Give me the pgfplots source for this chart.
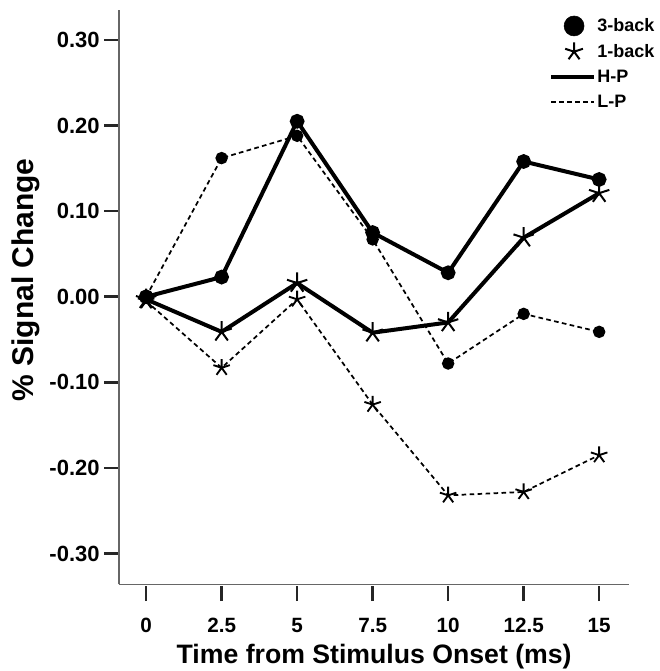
\documentclass[border=0pt]{standalone}
\usepackage{pgfplots}
\pgfplotsset{compat=1.18}
\usepackage{fontspec}
\setmainfont{Liberation Sans}
\pgfplotsset{
  legmark/.style={legend image code/.code={\draw[##1] plot coordinates {(17pt,0pt)};}},
  legline/.style={legend image code/.code={\draw[##1] (0pt,0pt) -- (32pt,0pt);}},
}
\begin{document}
\begin{tikzpicture}
\begin{axis}[
  scale only axis, width=383pt, height=431pt,
  xmin=-0.9, xmax=16.0, ymin=-0.336, ymax=0.335,
  axis lines*=left,
  axis line style={draw=black!60, line width=1.2pt},
  xtick={0,2.5,5,7.5,10,12.5,15},
  xticklabels={0,2.5,5,7.5,10,12.5,15},
  ytick={-0.3,-0.2,-0.1,0,0.1,0.2,0.3},
  yticklabels={-0.30,-0.20,-0.10,0.00,0.10,0.20,0.30},
  tick align=outside,
  major tick length=11pt,
  tick style={black!85, line width=2pt},
  xtick style={yshift=-1.5pt},
  /pgf/number format/assume math mode=true,
  x tick label style={font=\fontsize{15.5}{18}\selectfont\bfseries, yshift=-11pt},
  y tick label style={font=\fontsize{16.5}{18}\selectfont\bfseries},
  xlabel={Time from Stimulus Onset (ms)},
  ylabel={\% Signal Change},
  xlabel style={font=\fontsize{20}{24}\selectfont\bfseries, inner ysep=0pt, yshift=-5pt},
  ylabel style={font=\fontsize{22.5}{26}\selectfont\bfseries, at={(ticklabel cs:0.53)}},
  legend style={draw=none, fill=none, at={(1.06,0.995)}, anchor=north east,
    font=\fontsize{13.5}{15}\selectfont\bfseries, nodes={inner xsep=1pt}, row sep=4pt},
  legend cell align=left,
]
% legend images
\addlegendimage{only marks, mark=*, mark size=7.5pt, black, legmark}
\addlegendentry{3-back}
\addlegendimage{only marks, mark=star, mark size=7pt, line width=1.5pt, black, legmark}
\addlegendentry{1-back}
\addlegendimage{line width=3pt, black, legline}
\addlegendentry{H-P}
\addlegendimage{line width=1.3pt, black, dash pattern=on 3.5pt off 2.5pt, legline}
\addlegendentry{L-P}
% L-P 3-back
\addplot[forget plot, black, line width=1.3pt, dash pattern=on 3.5pt off 2.5pt, mark=*, mark size=4pt, mark options={solid}] coordinates {
(0,0) (2.5,0.162) (5,0.188) (7.5,0.067) (10,-0.078) (12.5,-0.020) (15,-0.041)};
% L-P 1-back
\addplot[forget plot, black, line width=1.3pt, dash pattern=on 3.5pt off 2.5pt, mark=star, mark size=6.5pt, mark options={solid, line width=1.4pt}] coordinates {
(0,-0.005) (2.5,-0.083) (5,-0.003) (7.5,-0.126) (10,-0.232) (12.5,-0.228) (15,-0.185)};
% H-P 3-back
\addplot[forget plot, black, line width=3pt, mark=*, mark size=4pt, mark options={solid}] coordinates {
(0,0) (2.5,0.023) (5,0.205) (7.5,0.075) (10,0.028) (12.5,0.158) (15,0.137)};
% H-P 1-back
\addplot[forget plot, black, line width=3pt, mark=star, mark size=8pt, mark options={solid, line width=1.5pt}] coordinates {
(0,-0.003) (2.5,-0.041) (5,0.016) (7.5,-0.042) (10,-0.030) (12.5,0.069) (15,0.121)};
\end{axis}
\path (current axis.south west) ++(-89.25pt,-65pt) coordinate (bbA);
\path (current axis.north east) ++(21.75pt,7.5pt) coordinate (bbB);
\path (bbA) rectangle (bbB);
\end{tikzpicture}
\end{document}
